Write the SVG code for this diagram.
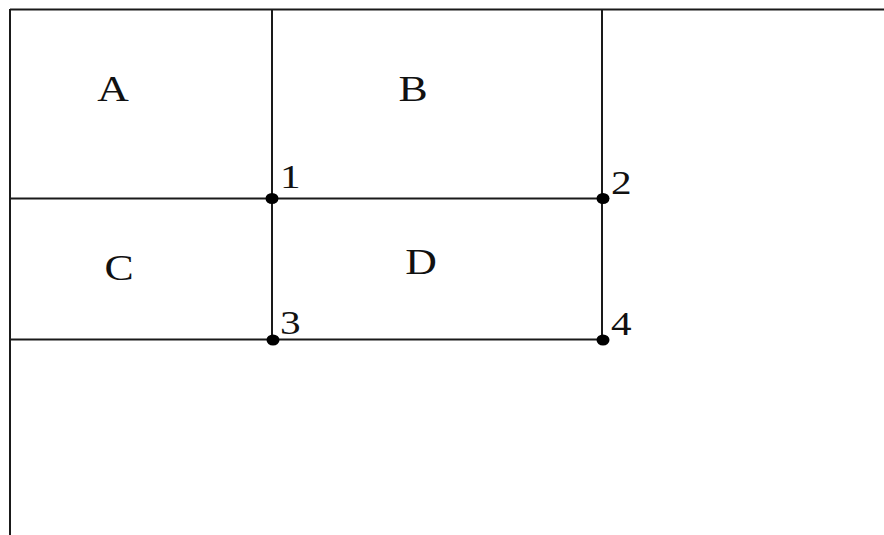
<svg xmlns="http://www.w3.org/2000/svg" width="884" height="535" viewBox="0 0 884 535">
<style>
.ln{stroke:#1a1a1a;stroke-width:2;fill:none}
.lb{font-family:"Liberation Serif","Times New Roman",serif;font-size:35px;fill:#111;text-anchor:middle}
.nm{font-family:"Liberation Serif","Times New Roman",serif;font-size:33px;fill:#111}
.dot{fill:#000}
</style>
<rect width="884" height="535" fill="#fff"/>
<g id="connectors">
<line class="ln" x1="10" y1="9.5" x2="884" y2="9.5"/>
<line class="ln" x1="10" y1="9" x2="10" y2="535"/>
<line class="ln" x1="272" y1="9" x2="272" y2="340"/>
<line class="ln" x1="602" y1="9" x2="602" y2="340"/>
<line class="ln" x1="10" y1="198.5" x2="602" y2="198.5"/>
<line class="ln" x1="10" y1="339.5" x2="602" y2="339.5"/>
</g>
<g id="A"><text class="lb" transform="translate(113,101) scale(1.25,1)">A</text></g>
<g id="B"><text class="lb" transform="translate(413,101) scale(1.25,1)">B</text></g>
<g id="C"><text class="lb" transform="translate(119,280) scale(1.25,1)">C</text></g>
<g id="D"><text class="lb" transform="translate(421,274) scale(1.25,1)">D</text></g>
<g id="n1"><ellipse class="dot" cx="272" cy="198.5" rx="6.5" ry="5.5"/><text class="nm" transform="translate(280,188) scale(1.25,1)">1</text></g>
<g id="n2"><ellipse class="dot" cx="603" cy="198.5" rx="6.5" ry="5.5"/><text class="nm" transform="translate(611,194) scale(1.25,1)">2</text></g>
<g id="n3"><ellipse class="dot" cx="273" cy="340" rx="6.5" ry="5.5"/><text class="nm" transform="translate(280,334) scale(1.25,1)">3</text></g>
<g id="n4"><ellipse class="dot" cx="603" cy="340" rx="6.5" ry="5.5"/><text class="nm" transform="translate(611,335) scale(1.25,1)">4</text></g>
</svg>
